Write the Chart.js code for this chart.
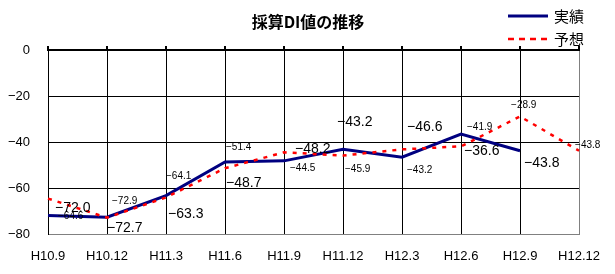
<!DOCTYPE html>
<html>
<head>
<meta charset="utf-8">
<script src="https://cdn.jsdelivr.net/npm/chart.js@4.4.1/dist/chart.umd.min.js"></script>
<style>
  html, body { margin: 0; padding: 0; background: #fff; }
  #wrap { width: 615px; height: 274px; }
</style>
</head>
<body>
<div id="wrap"><canvas id="grafico" width="615" height="274"></canvas></div>
<script>
// dados
const periodos = ["H10.9", "H10.12", "H11.3", "H11.6", "H11.9", "H11.12", "H12.3", "H12.6", "H12.9", "H12.12"];
const jisseki = [-72.0, -72.7, -63.3, -48.7, -48.2, -43.2, -46.6, -36.6, -43.8, null];
const yosou = [-64.6, -72.9, -64.1, -51.4, -44.5, -45.9, -43.2, -41.9, -28.9, -43.8];
const eixoY = [0, -20, -40, -60, -80];

// posição dos rótulos (deslocamento em px a partir do ponto)
const rotJisseki = [[7, -7], [0, 11], [2, 19], [1, 21], [11, -12], [-6, -27], [5, -30], [3, 17], [4, 12], null];
const rotYosou = [[10, 18], [5, -16], [0, -21], [1, -21], [6, 16], [2, 14], [5, 21], [6, -19], [-9, -11], [-4, -5]];

const menos = v => (v < 0 ? "\u2212" : "") + Math.abs(v).toFixed(1);

const pluginTextos = {
  id: "textos",
  afterDatasetsDraw(chart) {
    const ctx = chart.ctx;
    ctx.save();
    ctx.textBaseline = "middle";
    ctx.textAlign = "left";
    ctx.fillStyle = "#000";

    const rotulos = [
      { idx: 0, offs: rotJisseki, font: "14px 'Liberation Sans', Arial, sans-serif" },
      { idx: 1, offs: rotYosou, font: "10px 'Liberation Sans', Arial, sans-serif" }
    ];
    rotulos.forEach(r => {
      const meta = chart.getDatasetMeta(r.idx);
      const valores = chart.data.datasets[r.idx].data;
      ctx.font = r.font;
      meta.data.forEach((pt, i) => {
        if (valores[i] === null || !r.offs[i]) return;
        ctx.fillText(menos(valores[i]), pt.x + r.offs[i][0], pt.y + r.offs[i][1]);
      });
    });

    // título
    ctx.textAlign = "center";
    ctx.font = "bold 16px 'Noto Sans CJK JP', sans-serif";
    ctx.fillText("採算DI値の推移", 308, 22);

    // legenda
    ctx.textAlign = "left";
    ctx.font = "15px 'Noto Sans CJK JP', sans-serif";
    ctx.lineWidth = 3;
    ctx.strokeStyle = "#000080";
    ctx.beginPath(); ctx.moveTo(508, 16); ctx.lineTo(548, 16); ctx.stroke();
    ctx.fillText("実績", 554, 16);
    ctx.strokeStyle = "#ff0000";
    ctx.lineWidth = 2.5;
    ctx.setLineDash([6, 5]);
    ctx.beginPath(); ctx.moveTo(508, 39); ctx.lineTo(548, 39); ctx.stroke();
    ctx.setLineDash([]);
    ctx.fillText("予想", 554, 39);
    ctx.restore();
  }
};

const ctxGrafico = document.getElementById("grafico").getContext("2d");
new Chart(ctxGrafico, {
  type: "line",
  data: {
    labels: periodos,
    datasets: [
      {
        label: "実績",
        data: jisseki,
        borderColor: "#000080",
        borderWidth: 3,
        pointRadius: 0,
        tension: 0,
        fill: false,
        order: 1
      },
      {
        label: "予想",
        data: yosou,
        borderColor: "#ff0000",
        borderWidth: 2.5,
        borderDash: [4, 6],
        pointRadius: 0,
        tension: 0,
        fill: false,
        order: 0
      }
    ]
  },
  options: {
    responsive: false,
    animation: false,
    layout: { padding: { top: 46, right: 29, left: 0, bottom: 0 } },
    plugins: {
      legend: { display: false },
      title: { display: false },
      tooltip: { enabled: false }
    },
    scales: {
      x: {
        type: "category",
        position: "bottom",
        offset: false,
        grid: {
          color: c => (c.index === periodos.length - 1 ? "#808080" : "#000"),
          lineWidth: 1,
          drawTicks: false
        },
        border: { color: "#808080", width: 1 },
        ticks: {
          color: "#000",
          font: { family: "'Liberation Sans', Arial, sans-serif", size: 13 },
          padding: 15,
          maxRotation: 0,
          autoSkip: false
        },
        afterFit: s => { s.height = 40; }
      },
      x2: {
        type: "category",
        labels: periodos,
        position: "top",
        offset: false,
        grid: { drawOnChartArea: false, drawTicks: true, tickLength: 4, color: "#000", lineWidth: 2 },
        border: { color: "#000", width: 2 },
        ticks: { display: false },
        afterFit: s => { s.height = 4; }
      },
      y: {
        min: eixoY[eixoY.length - 1],
        max: eixoY[0],
        grid: {
          color: c => (c.tick.value === -80 ? "#808080" : "#000"),
          lineWidth: 1,
          drawTicks: false
        },
        border: { color: "#000", width: 1 },
        ticks: {
          stepSize: 20,
          color: "#000",
          padding: 18,
          font: { family: "'Liberation Sans', Arial, sans-serif", size: 13 },
          callback: v => (eixoY.includes(v) ? (v < 0 ? "\u2212" + Math.abs(v) : String(v)) : "")
        },
        afterFit: s => { s.width = 48; }
      }
    }
  },
  plugins: [pluginTextos]
});
</script>
</body>
</html>
